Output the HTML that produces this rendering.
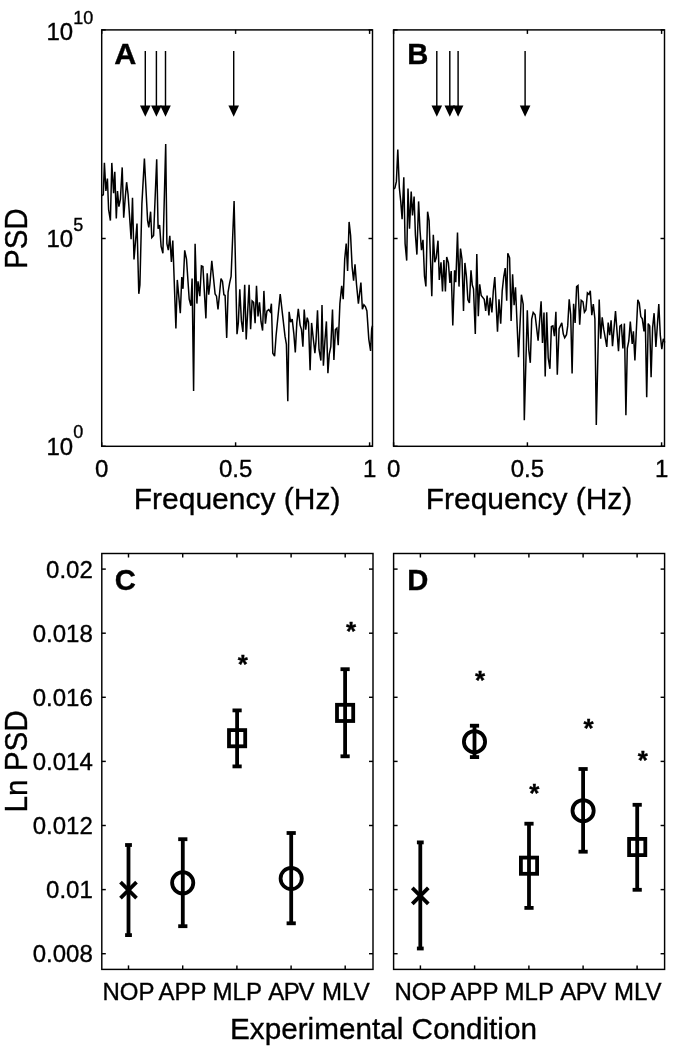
<!DOCTYPE html>
<html lang="en"><head><meta charset="utf-8"><title>Figure</title>
<style>html,body{margin:0;padding:0;background:#fff}svg{display:block}text{font-family:'Liberation Sans', Arial, Helvetica, sans-serif;fill:#000;stroke:#000;stroke-width:0.35px}</style>
</head><body>
<svg width="676" height="1050" viewBox="0 0 676 1050">
<rect width="676" height="1050" fill="#fff"/>
<rect x="101.7" y="29.9" width="270.8" height="416.4" fill="none" stroke="#000" stroke-width="1.45"/>
<line x1="101.7" y1="446.3" x2="101.7" y2="442.3" stroke="#000" stroke-width="1.45"/>
<line x1="101.7" y1="29.9" x2="101.7" y2="33.9" stroke="#000" stroke-width="1.45"/>
<line x1="235.6" y1="446.3" x2="235.6" y2="442.3" stroke="#000" stroke-width="1.45"/>
<line x1="235.6" y1="29.9" x2="235.6" y2="33.9" stroke="#000" stroke-width="1.45"/>
<line x1="369.6" y1="446.3" x2="369.6" y2="442.3" stroke="#000" stroke-width="1.45"/>
<line x1="369.6" y1="29.9" x2="369.6" y2="33.9" stroke="#000" stroke-width="1.45"/>
<line x1="101.7" y1="29.9" x2="105.7" y2="29.9" stroke="#000" stroke-width="1.45"/>
<line x1="372.5" y1="29.9" x2="368.5" y2="29.9" stroke="#000" stroke-width="1.45"/>
<line x1="101.7" y1="238.5" x2="105.7" y2="238.5" stroke="#000" stroke-width="1.45"/>
<line x1="372.5" y1="238.5" x2="368.5" y2="238.5" stroke="#000" stroke-width="1.45"/>
<line x1="101.7" y1="446.3" x2="105.7" y2="446.3" stroke="#000" stroke-width="1.45"/>
<line x1="372.5" y1="446.3" x2="368.5" y2="446.3" stroke="#000" stroke-width="1.45"/>
<text x="101.7" y="476.5" font-size="24.0" text-anchor="middle">0</text>
<text x="235.6" y="476.5" font-size="24.0" text-anchor="middle">0.5</text>
<text x="369.6" y="476.5" font-size="24.0" text-anchor="middle">1</text>
<text x="237.1" y="509.0" font-size="30.0" text-anchor="middle">Frequency (Hz)</text>
<rect x="393.6" y="29.9" width="270.9" height="416.4" fill="none" stroke="#000" stroke-width="1.45"/>
<line x1="393.6" y1="446.3" x2="393.6" y2="442.3" stroke="#000" stroke-width="1.45"/>
<line x1="393.6" y1="29.9" x2="393.6" y2="33.9" stroke="#000" stroke-width="1.45"/>
<line x1="527.4" y1="446.3" x2="527.4" y2="442.3" stroke="#000" stroke-width="1.45"/>
<line x1="527.4" y1="29.9" x2="527.4" y2="33.9" stroke="#000" stroke-width="1.45"/>
<line x1="661.6" y1="446.3" x2="661.6" y2="442.3" stroke="#000" stroke-width="1.45"/>
<line x1="661.6" y1="29.9" x2="661.6" y2="33.9" stroke="#000" stroke-width="1.45"/>
<line x1="393.6" y1="29.9" x2="397.6" y2="29.9" stroke="#000" stroke-width="1.45"/>
<line x1="664.5" y1="29.9" x2="660.5" y2="29.9" stroke="#000" stroke-width="1.45"/>
<line x1="393.6" y1="238.5" x2="397.6" y2="238.5" stroke="#000" stroke-width="1.45"/>
<line x1="664.5" y1="238.5" x2="660.5" y2="238.5" stroke="#000" stroke-width="1.45"/>
<line x1="393.6" y1="446.3" x2="397.6" y2="446.3" stroke="#000" stroke-width="1.45"/>
<line x1="664.5" y1="446.3" x2="660.5" y2="446.3" stroke="#000" stroke-width="1.45"/>
<text x="393.6" y="476.5" font-size="24.0" text-anchor="middle">0</text>
<text x="527.4" y="476.5" font-size="24.0" text-anchor="middle">0.5</text>
<text x="661.6" y="476.5" font-size="24.0" text-anchor="middle">1</text>
<text x="529.0" y="509.0" font-size="30.0" text-anchor="middle">Frequency (Hz)</text>
<text x="46.5" y="40.0" font-size="24.0" text-anchor="start">10</text>
<text x="73.3" y="23.5" font-size="18.0" text-anchor="start">10</text>
<text x="46.5" y="247.3" font-size="24.0" text-anchor="start">10</text>
<text x="73.3" y="230.8" font-size="18.0" text-anchor="start">5</text>
<text x="46.5" y="454.5" font-size="24.0" text-anchor="start">10</text>
<text x="73.3" y="438.0" font-size="18.0" text-anchor="start">0</text>
<text transform="translate(27.1,238.7) rotate(-90) scale(0.985,1.035)" font-size="30" text-anchor="middle">PSD</text>
<text transform="translate(114.3,64.1) scale(1.027,1)" font-size="29.8" font-weight="bold">A</text>
<text x="407.2" y="64.0" font-size="29.2" text-anchor="start" font-weight="bold">B</text>
<polyline points="101.8,195.5 103.3,194.7 104.4,162.9 105.9,191.0 107.4,178.5 108.6,209.5 110.4,220.6 111.8,162.9 113.6,193.3 114.8,171.8 116.3,218.4 117.5,191.0 118.9,206.6 120.4,199.2 122.2,167.4 123.7,217.7 125.1,199.2 126.6,182.2 128.1,194.7 129.6,216.9 131.1,239.1 132.5,197.7 134.0,259.5 137.0,223.6 138.8,293.8 139.9,285.0 141.9,203.6 144.4,158.5 147.6,220.6 148.8,227.3 150.6,211.7 151.8,237.6 153.6,235.4 156.7,159.2 158.1,228.8 159.6,225.1 161.1,246.5 162.9,253.2 165.7,144.1 166.9,243.6 168.3,250.2 169.8,235.9 171.4,262.0 172.8,240.6 175.9,328.5 177.3,279.9 180.3,313.2 181.8,277.0 183.0,288.8 184.7,250.4 186.5,259.2 189.2,299.2 190.9,305.8 192.1,278.5 193.6,390.9 195.1,243.7 196.9,303.6 198.0,281.4 199.8,296.2 201.4,265.9 202.9,266.6 205.9,318.4 207.2,273.3 208.7,294.7 209.9,284.4 211.8,260.7 215.1,294.0 216.5,296.2 218.0,309.5 221.0,278.5 222.5,281.4 223.9,294.7 225.1,295.5 226.7,337.9 228.1,292.1 229.6,283.2 231.1,276.5 234.1,201.1 237.0,334.2 238.3,323.1 239.8,289.4 241.4,320.9 242.9,332.0 244.7,284.7 246.2,339.4 249.1,284.7 250.6,329.1 252.1,300.9 253.6,302.4 255.1,323.1 256.5,285.9 258.0,316.5 259.5,302.4 261.0,321.7 262.6,330.5 263.9,290.9 265.4,323.6 266.9,311.1 268.7,309.6 270.2,311.8 271.4,303.7 272.8,353.2 274.6,356.2 276.1,335.5 280.2,294.1 285.0,336.2 286.4,344.3 287.8,401.3 289.1,311.8 290.6,322.2 292.2,319.2 293.8,333.3 295.3,352.5 296.8,322.9 298.3,308.8 300.1,325.1 301.5,329.6 302.9,346.6 304.2,309.6 305.7,329.6 307.2,317.7 308.5,322.2 310.1,370.2 311.6,322.9 313.1,337.0 314.9,353.2 316.0,341.4 317.5,310.3 319.0,349.5 320.9,360.6 322.0,305.1 323.4,365.8 324.9,340.7 326.4,321.4 327.9,373.2 329.3,354.0 330.8,346.6 332.5,309.6 333.9,359.9 335.4,329.6 336.9,328.1 338.2,345.1 339.9,303.6 341.7,285.8 343.2,299.1 344.7,259.2 346.2,243.6 347.6,271.0 349.1,221.9 350.6,235.5 352.1,266.6 353.6,280.6 355.0,264.3 356.5,284.3 358.4,303.6 360.9,282.5 362.4,309.2 363.9,304.7 365.4,306.5 366.9,310.9 368.8,339.1 370.6,350.9 371.7,328.7 372.5,325.7" fill="none" stroke="#000" stroke-width="1.5" stroke-linejoin="miter" stroke-miterlimit="3"/>
<polyline points="393.7,188.8 394.9,188.1 396.4,181.4 397.8,149.6 399.3,187.3 400.8,202.1 402.1,219.1 403.8,177.3 405.1,243.6 406.7,260.6 408.0,188.5 409.5,228.8 411.2,191.5 412.5,215.4 414.1,196.5 415.4,234.7 416.9,254.6 418.6,201.4 420.0,230.2 421.5,250.2 423.0,239.9 424.5,276.1 425.9,286.4 427.6,211.7 429.1,220.6 431.8,296.2 433.3,234.7 434.8,262.2 436.2,257.8 438.0,240.7 439.3,279.9 441.0,262.2 442.5,291.5 443.9,260.0 445.4,291.5 446.7,257.0 448.4,262.9 449.9,282.9 451.2,271.1 452.8,325.5 454.6,270.3 455.8,282.2 457.5,232.5 459.0,286.6 460.5,248.6 462.0,259.2 463.5,311.0 464.9,262.9 466.4,276.2 467.9,299.9 469.4,302.9 471.0,270.3 472.3,285.1 473.5,288.8 475.3,333.9 476.8,254.1 478.3,316.2 479.7,284.4 481.2,295.5 484.2,299.2 485.7,311.0 487.1,295.5 488.9,315.4 490.1,297.7 491.9,312.5 493.3,291.0 494.8,277.0 497.5,331.7 499.0,299.2 500.7,323.6 502.2,291.0 503.7,277.0 505.2,268.1 506.7,300.7 507.8,253.3 509.6,257.8 511.1,321.1 512.6,274.3 514.1,305.1 515.5,287.3 518.5,357.2 521.4,294.7 523.2,304.3 524.3,420.2 527.3,310.3 528.8,350.3 530.3,362.8 531.7,319.2 533.2,312.5 535.1,314.8 538.1,340.7 541.1,301.4 542.5,342.9 544.0,312.5 545.2,376.4 546.7,312.2 548.2,357.7 549.9,368.8 551.4,326.6 552.9,325.9 554.4,336.2 555.9,311.8 557.3,374.7 559.1,328.8 561.8,322.9 563.3,334.0 564.7,337.7 566.5,334.7 567.7,325.9 569.2,299.2 570.7,314.8 572.1,373.5 573.6,303.7 575.1,322.9 576.6,286.7 578.0,285.6 579.7,324.7 581.2,300.3 583.0,301.8 584.4,312.2 585.9,309.9 587.4,292.9 588.9,294.4 590.3,290.7 591.8,315.1 593.3,304.0 594.9,318.8 596.3,425.0 599.2,299.6 600.7,338.8 602.2,317.3 603.7,329.2 606.8,346.9 608.2,322.5 609.7,335.1 611.1,320.3 612.5,346.2 615.5,311.1 618.5,351.1 619.9,326.2 621.4,325.0 622.9,348.4 624.4,323.6 625.9,415.3 627.3,348.4 628.8,341.0 630.3,321.5 632.2,344.0 633.4,331.4 634.9,360.5 637.8,299.9 639.3,303.3 640.8,316.6 642.3,318.8 644.0,331.4 645.1,309.2 646.7,397.2 648.2,323.6 649.7,325.9 651.1,377.2 652.6,327.7 654.1,313.2 655.9,346.9 658.8,304.0 660.3,335.1 661.8,349.1 663.3,338.8 664.8,342.5" fill="none" stroke="#000" stroke-width="1.5" stroke-linejoin="miter" stroke-miterlimit="3"/>
<line x1="145.3" y1="51.0" x2="145.3" y2="108.8" stroke="#000" stroke-width="1.45"/>
<polygon points="140.0,105.6 150.6,105.6 145.3,116.8" fill="#000"/>
<line x1="156.4" y1="51.0" x2="156.4" y2="108.8" stroke="#000" stroke-width="1.45"/>
<polygon points="151.1,105.6 161.7,105.6 156.4,116.8" fill="#000"/>
<line x1="165.5" y1="51.0" x2="165.5" y2="108.8" stroke="#000" stroke-width="1.45"/>
<polygon points="160.2,105.6 170.8,105.6 165.5,116.8" fill="#000"/>
<line x1="233.7" y1="51.0" x2="233.7" y2="108.8" stroke="#000" stroke-width="1.45"/>
<polygon points="228.4,105.6 239.0,105.6 233.7,116.8" fill="#000"/>
<line x1="436.8" y1="51.0" x2="436.8" y2="108.8" stroke="#000" stroke-width="1.45"/>
<polygon points="431.5,105.6 442.1,105.6 436.8,116.8" fill="#000"/>
<line x1="449.8" y1="51.0" x2="449.8" y2="108.8" stroke="#000" stroke-width="1.45"/>
<polygon points="444.5,105.6 455.1,105.6 449.8,116.8" fill="#000"/>
<line x1="458.1" y1="51.0" x2="458.1" y2="108.8" stroke="#000" stroke-width="1.45"/>
<polygon points="452.8,105.6 463.4,105.6 458.1,116.8" fill="#000"/>
<line x1="525.1" y1="51.0" x2="525.1" y2="108.8" stroke="#000" stroke-width="1.45"/>
<polygon points="519.8,105.6 530.4,105.6 525.1,116.8" fill="#000"/>
<rect x="101.8" y="553.5" width="271.2" height="415.9" fill="none" stroke="#000" stroke-width="1.45"/>
<line x1="128.5" y1="969.4" x2="128.5" y2="965.4" stroke="#000" stroke-width="1.45"/>
<line x1="128.5" y1="553.5" x2="128.5" y2="557.5" stroke="#000" stroke-width="1.45"/>
<line x1="182.7" y1="969.4" x2="182.7" y2="965.4" stroke="#000" stroke-width="1.45"/>
<line x1="182.7" y1="553.5" x2="182.7" y2="557.5" stroke="#000" stroke-width="1.45"/>
<line x1="236.9" y1="969.4" x2="236.9" y2="965.4" stroke="#000" stroke-width="1.45"/>
<line x1="236.9" y1="553.5" x2="236.9" y2="557.5" stroke="#000" stroke-width="1.45"/>
<line x1="291.1" y1="969.4" x2="291.1" y2="965.4" stroke="#000" stroke-width="1.45"/>
<line x1="291.1" y1="553.5" x2="291.1" y2="557.5" stroke="#000" stroke-width="1.45"/>
<line x1="345.2" y1="969.4" x2="345.2" y2="965.4" stroke="#000" stroke-width="1.45"/>
<line x1="345.2" y1="553.5" x2="345.2" y2="557.5" stroke="#000" stroke-width="1.45"/>
<line x1="101.8" y1="953.7" x2="105.8" y2="953.7" stroke="#000" stroke-width="1.45"/>
<line x1="373.0" y1="953.7" x2="369.0" y2="953.7" stroke="#000" stroke-width="1.45"/>
<line x1="101.8" y1="889.6" x2="105.8" y2="889.6" stroke="#000" stroke-width="1.45"/>
<line x1="373.0" y1="889.6" x2="369.0" y2="889.6" stroke="#000" stroke-width="1.45"/>
<line x1="101.8" y1="825.5" x2="105.8" y2="825.5" stroke="#000" stroke-width="1.45"/>
<line x1="373.0" y1="825.5" x2="369.0" y2="825.5" stroke="#000" stroke-width="1.45"/>
<line x1="101.8" y1="761.4" x2="105.8" y2="761.4" stroke="#000" stroke-width="1.45"/>
<line x1="373.0" y1="761.4" x2="369.0" y2="761.4" stroke="#000" stroke-width="1.45"/>
<line x1="101.8" y1="697.3" x2="105.8" y2="697.3" stroke="#000" stroke-width="1.45"/>
<line x1="373.0" y1="697.3" x2="369.0" y2="697.3" stroke="#000" stroke-width="1.45"/>
<line x1="101.8" y1="633.2" x2="105.8" y2="633.2" stroke="#000" stroke-width="1.45"/>
<line x1="373.0" y1="633.2" x2="369.0" y2="633.2" stroke="#000" stroke-width="1.45"/>
<line x1="101.8" y1="569.1" x2="105.8" y2="569.1" stroke="#000" stroke-width="1.45"/>
<line x1="373.0" y1="569.1" x2="369.0" y2="569.1" stroke="#000" stroke-width="1.45"/>
<text x="128.5" y="999.6" font-size="24.0" text-anchor="middle">NOP</text>
<text x="182.5" y="999.6" font-size="24.0" text-anchor="middle">APP</text>
<text x="237.3" y="999.6" font-size="24.0" text-anchor="middle">MLP</text>
<text x="291.4" y="999.6" font-size="24.0" text-anchor="middle">A<tspan dx="-0.4">P</tspan><tspan dx="-1.2">V</tspan></text>
<text x="345.9" y="999.6" font-size="24.0" text-anchor="middle">MLV</text>
<rect x="393.6" y="553.5" width="271.0" height="415.9" fill="none" stroke="#000" stroke-width="1.45"/>
<line x1="420.4" y1="969.4" x2="420.4" y2="965.4" stroke="#000" stroke-width="1.45"/>
<line x1="420.4" y1="553.5" x2="420.4" y2="557.5" stroke="#000" stroke-width="1.45"/>
<line x1="474.6" y1="969.4" x2="474.6" y2="965.4" stroke="#000" stroke-width="1.45"/>
<line x1="474.6" y1="553.5" x2="474.6" y2="557.5" stroke="#000" stroke-width="1.45"/>
<line x1="528.9" y1="969.4" x2="528.9" y2="965.4" stroke="#000" stroke-width="1.45"/>
<line x1="528.9" y1="553.5" x2="528.9" y2="557.5" stroke="#000" stroke-width="1.45"/>
<line x1="583.1" y1="969.4" x2="583.1" y2="965.4" stroke="#000" stroke-width="1.45"/>
<line x1="583.1" y1="553.5" x2="583.1" y2="557.5" stroke="#000" stroke-width="1.45"/>
<line x1="637.1" y1="969.4" x2="637.1" y2="965.4" stroke="#000" stroke-width="1.45"/>
<line x1="637.1" y1="553.5" x2="637.1" y2="557.5" stroke="#000" stroke-width="1.45"/>
<line x1="393.6" y1="953.7" x2="397.6" y2="953.7" stroke="#000" stroke-width="1.45"/>
<line x1="664.6" y1="953.7" x2="660.6" y2="953.7" stroke="#000" stroke-width="1.45"/>
<line x1="393.6" y1="889.6" x2="397.6" y2="889.6" stroke="#000" stroke-width="1.45"/>
<line x1="664.6" y1="889.6" x2="660.6" y2="889.6" stroke="#000" stroke-width="1.45"/>
<line x1="393.6" y1="825.5" x2="397.6" y2="825.5" stroke="#000" stroke-width="1.45"/>
<line x1="664.6" y1="825.5" x2="660.6" y2="825.5" stroke="#000" stroke-width="1.45"/>
<line x1="393.6" y1="761.4" x2="397.6" y2="761.4" stroke="#000" stroke-width="1.45"/>
<line x1="664.6" y1="761.4" x2="660.6" y2="761.4" stroke="#000" stroke-width="1.45"/>
<line x1="393.6" y1="697.3" x2="397.6" y2="697.3" stroke="#000" stroke-width="1.45"/>
<line x1="664.6" y1="697.3" x2="660.6" y2="697.3" stroke="#000" stroke-width="1.45"/>
<line x1="393.6" y1="633.2" x2="397.6" y2="633.2" stroke="#000" stroke-width="1.45"/>
<line x1="664.6" y1="633.2" x2="660.6" y2="633.2" stroke="#000" stroke-width="1.45"/>
<line x1="393.6" y1="569.1" x2="397.6" y2="569.1" stroke="#000" stroke-width="1.45"/>
<line x1="664.6" y1="569.1" x2="660.6" y2="569.1" stroke="#000" stroke-width="1.45"/>
<text x="420.4" y="999.6" font-size="24.0" text-anchor="middle">NOP</text>
<text x="474.4" y="999.6" font-size="24.0" text-anchor="middle">APP</text>
<text x="529.3" y="999.6" font-size="24.0" text-anchor="middle">MLP</text>
<text x="583.4" y="999.6" font-size="24.0" text-anchor="middle">A<tspan dx="-0.4">P</tspan><tspan dx="-1.2">V</tspan></text>
<text x="637.8" y="999.6" font-size="24.0" text-anchor="middle">MLV</text>
<text x="92.8" y="962.3" font-size="24.0" text-anchor="end">0.008</text>
<text x="92.8" y="898.2" font-size="24.0" text-anchor="end">0.01</text>
<text x="92.8" y="834.1" font-size="24.0" text-anchor="end">0.012</text>
<text x="92.8" y="770.0" font-size="24.0" text-anchor="end">0.014</text>
<text x="92.8" y="705.9" font-size="24.0" text-anchor="end">0.016</text>
<text x="92.8" y="641.8" font-size="24.0" text-anchor="end">0.018</text>
<text x="92.8" y="577.7" font-size="24.0" text-anchor="end">0.02</text>
<text transform="translate(27.2,761.4) rotate(-90) scale(0.99,1.035)" font-size="30" text-anchor="middle">Ln PSD</text>
<text x="383.5" y="1039.0" font-size="29.7" text-anchor="middle">Experimental Condition</text>
<text x="114.8" y="589.7" font-size="29.2" text-anchor="start" font-weight="bold">C</text>
<text x="407.3" y="589.7" font-size="29.2" text-anchor="start" font-weight="bold">D</text>
<line x1="128.5" y1="845.0" x2="128.5" y2="935.1" stroke="#000" stroke-width="3.80"/>
<line x1="125.1" y1="845.0" x2="131.9" y2="845.0" stroke="#000" stroke-width="3.80"/>
<line x1="125.1" y1="935.1" x2="131.9" y2="935.1" stroke="#000" stroke-width="3.80"/>
<line x1="120.5" y1="882.1" x2="136.5" y2="898.1" stroke="#000" stroke-width="3.80"/>
<line x1="120.5" y1="898.1" x2="136.5" y2="882.1" stroke="#000" stroke-width="3.80"/>
<line x1="182.8" y1="839.2" x2="182.8" y2="926.2" stroke="#000" stroke-width="3.80"/>
<line x1="178.2" y1="839.2" x2="187.4" y2="839.2" stroke="#000" stroke-width="3.80"/>
<line x1="178.2" y1="926.2" x2="187.4" y2="926.2" stroke="#000" stroke-width="3.80"/>
<circle cx="182.7" cy="882.8" r="10.6" fill="none" stroke="#000" stroke-width="3.8"/>
<line x1="237.1" y1="710.4" x2="237.1" y2="766.4" stroke="#000" stroke-width="3.80"/>
<line x1="232.5" y1="710.4" x2="241.7" y2="710.4" stroke="#000" stroke-width="3.80"/>
<line x1="232.5" y1="766.4" x2="241.7" y2="766.4" stroke="#000" stroke-width="3.80"/>
<rect x="229.0" y="730.1" width="16.2" height="16.2" fill="none" stroke="#000" stroke-width="3.8"/>
<text x="242.7" y="673.0" font-size="26.0" text-anchor="middle" font-weight="bold">*</text>
<line x1="291.2" y1="833.0" x2="291.2" y2="923.3" stroke="#000" stroke-width="3.80"/>
<line x1="286.6" y1="833.0" x2="295.8" y2="833.0" stroke="#000" stroke-width="3.80"/>
<line x1="286.6" y1="923.3" x2="295.8" y2="923.3" stroke="#000" stroke-width="3.80"/>
<circle cx="291.2" cy="878.5" r="10.6" fill="none" stroke="#000" stroke-width="3.8"/>
<line x1="345.1" y1="669.2" x2="345.1" y2="756.3" stroke="#000" stroke-width="3.80"/>
<line x1="340.5" y1="669.2" x2="349.7" y2="669.2" stroke="#000" stroke-width="3.80"/>
<line x1="340.5" y1="756.3" x2="349.7" y2="756.3" stroke="#000" stroke-width="3.80"/>
<rect x="337.0" y="704.8" width="16.2" height="16.2" fill="none" stroke="#000" stroke-width="3.8"/>
<text x="351.0" y="640.4" font-size="26.0" text-anchor="middle" font-weight="bold">*</text>
<line x1="420.3" y1="842.4" x2="420.3" y2="948.5" stroke="#000" stroke-width="3.80"/>
<line x1="416.9" y1="842.4" x2="423.7" y2="842.4" stroke="#000" stroke-width="3.80"/>
<line x1="416.9" y1="948.5" x2="423.7" y2="948.5" stroke="#000" stroke-width="3.80"/>
<line x1="412.3" y1="887.8" x2="428.3" y2="903.8" stroke="#000" stroke-width="3.80"/>
<line x1="412.3" y1="903.8" x2="428.3" y2="887.8" stroke="#000" stroke-width="3.80"/>
<line x1="474.5" y1="725.7" x2="474.5" y2="757.1" stroke="#000" stroke-width="3.80"/>
<line x1="469.9" y1="725.7" x2="479.1" y2="725.7" stroke="#000" stroke-width="3.80"/>
<line x1="469.9" y1="757.1" x2="479.1" y2="757.1" stroke="#000" stroke-width="3.80"/>
<circle cx="474.5" cy="741.7" r="10.6" fill="none" stroke="#000" stroke-width="3.8"/>
<text x="480.0" y="689.3" font-size="26.0" text-anchor="middle" font-weight="bold">*</text>
<line x1="529.0" y1="823.7" x2="529.0" y2="907.9" stroke="#000" stroke-width="3.80"/>
<line x1="524.4" y1="823.7" x2="533.6" y2="823.7" stroke="#000" stroke-width="3.80"/>
<line x1="524.4" y1="907.9" x2="533.6" y2="907.9" stroke="#000" stroke-width="3.80"/>
<rect x="520.9" y="857.6" width="16.2" height="16.2" fill="none" stroke="#000" stroke-width="3.8"/>
<text x="534.3" y="801.8" font-size="26.0" text-anchor="middle" font-weight="bold">*</text>
<line x1="583.1" y1="769.0" x2="583.1" y2="851.7" stroke="#000" stroke-width="3.80"/>
<line x1="578.5" y1="769.0" x2="587.7" y2="769.0" stroke="#000" stroke-width="3.80"/>
<line x1="578.5" y1="851.7" x2="587.7" y2="851.7" stroke="#000" stroke-width="3.80"/>
<circle cx="583.1" cy="810.7" r="10.6" fill="none" stroke="#000" stroke-width="3.8"/>
<text x="588.6" y="736.9" font-size="26.0" text-anchor="middle" font-weight="bold">*</text>
<line x1="637.2" y1="804.8" x2="637.2" y2="889.8" stroke="#000" stroke-width="3.80"/>
<line x1="632.6" y1="804.8" x2="641.8" y2="804.8" stroke="#000" stroke-width="3.80"/>
<line x1="632.6" y1="889.8" x2="641.8" y2="889.8" stroke="#000" stroke-width="3.80"/>
<rect x="629.1" y="838.9" width="16.2" height="16.2" fill="none" stroke="#000" stroke-width="3.8"/>
<text x="642.7" y="769.1" font-size="26.0" text-anchor="middle" font-weight="bold">*</text>
</svg></body></html>
